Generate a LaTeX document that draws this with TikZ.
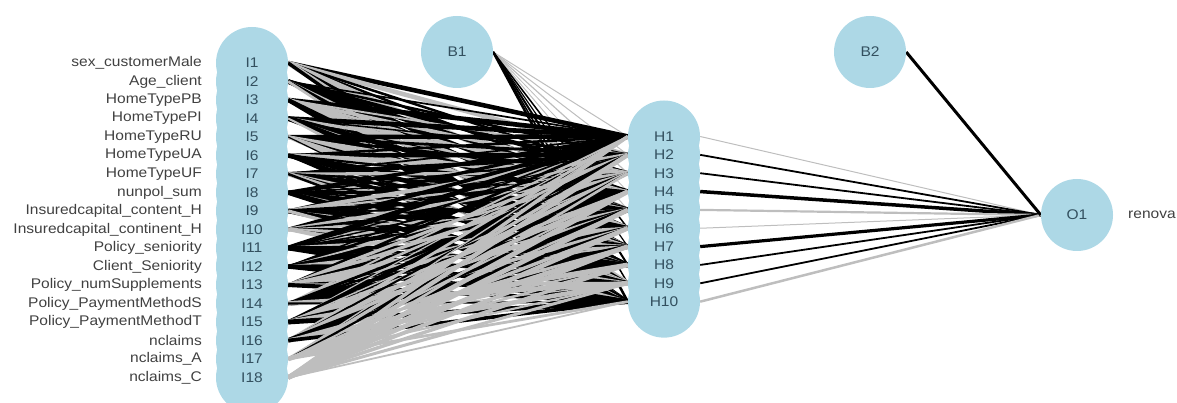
\documentclass[tikz,border=0pt]{standalone}
\usepackage{fontspec}
\setmainfont{Liberation Sans}[FakeStretch=1.11]
\definecolor{nodeblue}{HTML}{ADD8E6}
\definecolor{negcol}{HTML}{BEBEBE}
\definecolor{labelcol}{HTML}{33505F}
\definecolor{namecol}{HTML}{404040}
\pgfdeclarelayer{edges}
\pgfsetlayers{edges,main}
\begin{document}
\begin{tikzpicture}[x=1pt,y=-1pt,
  unit/.style={circle, fill=nodeblue, inner sep=0pt, minimum size=72pt},
  unitname/.style={text=labelcol, inner sep=0pt, font=\fontsize{14}{16}\selectfont},
  varname/.style={text=namecol, inner sep=0pt, anchor=east, font=\fontsize{14}{16}\selectfont},
  outname/.style={text=namecol, inner sep=0pt, anchor=west, font=\fontsize{14}{16}\selectfont},
  poswt/.style={draw=black},
  negwt/.style={draw=negcol}]
\useasboundingbox (0,0) rectangle (1177,403);

% units: circles first, their captions afterwards so overlapping circles do not hide them
\foreach \k in {1,...,18}
  \node[unit] (I\k) at (252,{63+18.5*(\k-1)}) {};
\foreach \k in {1,...,10}
  \node[unit] (H\k) at (664,{136.5+18.35*(\k-1)}) {};
\node[unit] (B1) at (457,52) {};
\node[unit] (B2) at (870,52) {};
\node[unit] (O1) at (1077,215) {};

\foreach \k in {1,...,18}
  \node[unitname] (tI\k) at (I\k) {I\k};
\foreach \k in {1,...,10}
  \node[unitname] (tH\k) at (H\k) {H\k};
\node[unitname] (tB1) at (B1) {B1};
\node[unitname] (tB2) at (B2) {B2};
\node[unitname] (tO1) at (O1) {O1};

% variable names
\foreach \k/\name in {1/sex\_customerMale, 2/Age\_client, 3/HomeTypePB, 4/HomeTypePI,
    5/HomeTypeRU, 6/HomeTypeUA, 7/HomeTypeUF, 8/nunpol\_sum,
    9/Insuredcapital\_content\_H, 10/Insuredcapital\_continent\_H,
    11/Policy\_seniority, 12/Client\_Seniority, 13/Policy\_numSupplements,
    14/Policy\_PaymentMethodS, 15/Policy\_PaymentMethodT, 16/nclaims,
    17/nclaims\_A, 18/nclaims\_C}
  \node[varname] (n\k) at (202,{63+18.5*(\k-1)}) {\name};
\node[outname] (nO1) at (1128,215) {renova};

% weighted connections, drawn beneath the units
\begin{pgfonlayer}{edges}
  % bias 1 to hidden layer
  \foreach \j/\w/\s in {1/1.0/negwt, 2/1.0/negwt, 3/1.2/negwt, 4/0.8/negwt, 5/1.0/negwt,
      6/1.5/poswt, 7/1.2/poswt, 8/2.0/poswt, 9/1.5/poswt, 10/2.5/poswt}
    \draw[\s, line width=\w pt] (B1.east) -- (H\j.west);
  % input layer to hidden layer
  \pgfmathsetseed{4217}
  \foreach \i in {1,...,18}{
    \foreach \j in {1,...,10}{
      \pgfmathsetmacro\pb{\i>16 ? 0.25 : 0.62}
      \pgfmathsetmacro\lw{1.0+4.0*rnd}
      \pgfmathtruncatemacro\ispos{rnd<\pb ? 1 : 0}
      \ifnum\ispos=1
        \draw[poswt, line width=\lw pt] (I\i.east) -- (H\j.west);
      \else
        \draw[negwt, line width=\lw pt] (I\i.east) -- (H\j.west);
      \fi
    }
  }
  % hidden layer to output
  \foreach \j/\w/\s in {1/1.0/negwt, 2/1.8/poswt, 3/1.8/poswt, 4/3.5/poswt, 5/2.2/negwt,
      6/1.0/negwt, 7/3.2/poswt, 8/1.8/poswt, 9/1.8/poswt, 10/2.5/negwt}
    \draw[\s, line width=\w pt] (H\j.east) -- (O1.west);
  \draw[poswt, line width=3pt] (B2.east) -- (O1.west);
\end{pgfonlayer}
\end{tikzpicture}
\end{document}
